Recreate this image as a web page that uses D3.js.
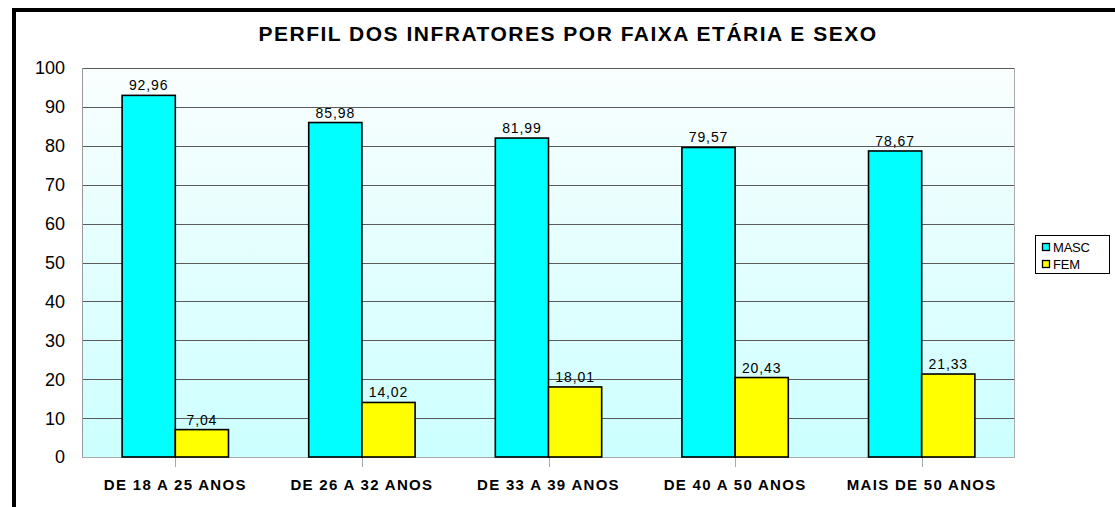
<!DOCTYPE html>
<html>
<head>
<meta charset="utf-8">
<script src="https://cdn.jsdelivr.net/npm/d3@7"></script>
<style>
  body { margin: 0; background: #fff; }
  text { font-family: Arial, "Liberation Sans", sans-serif; }
</style>
</head>
<body>
<div id="chart"></div>
<script>
// data
var categories = ["DE 18 A 25 ANOS", "DE 26 A 32 ANOS", "DE 33 A 39 ANOS", "DE 40 A 50 ANOS", "MAIS DE 50 ANOS"];
var series = ["MASC", "FEM"];
var masc = [92.96, 85.98, 81.99, 79.57, 78.67];
var fem = [7.04, 14.02, 18.01, 20.43, 21.33];
var yTicks = [0, 10, 20, 30, 40, 50, 60, 70, 80, 90, 100];
var colors = ["#00ffff", "#ffff00"];

var svgWidth = 1115, svgHeight = 507;
var margin = { top: 68, right: 100, bottom: 50, left: 82 };
var width = 1015 - margin.left;
var height = 457 - margin.top;

var svg = d3.select("#chart").append("svg")
  .attr("width", svgWidth)
  .attr("height", svgHeight);

// outer frame (only left/top visible)
svg.append("rect")
  .attr("x", 14).attr("y", 10)
  .attr("width", 1200).attr("height", 600)
  .attr("fill", "none").attr("stroke", "#000").attr("stroke-width", 4);

var defs = svg.append("defs");
var grad = defs.append("linearGradient").attr("id", "bg")
  .attr("x1", 0).attr("y1", 0).attr("x2", 0).attr("y2", 1);
grad.append("stop").attr("offset", "0%").attr("stop-color", "#fafefe");
grad.append("stop").attr("offset", "100%").attr("stop-color", "#ccffff");

var g = svg.append("g").attr("transform", `translate(${margin.left}, ${margin.top})`);

g.append("rect").attr("width", width).attr("height", height).attr("fill", "url(#bg)");

var x0 = d3.scaleBand().domain(categories).range([0, width]).paddingInner(0).paddingOuter(0);
var x1 = d3.scaleBand().domain(series).range([0, x0.bandwidth() * 0.57]);
var y = d3.scaleLinear().domain([0, 100]).range([height, 0]);
var groupOffset = (x0.bandwidth() - x1.range()[1]) / 2;

// gridlines
g.selectAll(".grid").data(yTicks.filter(d => d > 0)).enter().append("line")
  .attr("x1", 0).attr("x2", width)
  .attr("y1", d => Math.round(y(d)) + 0.5).attr("y2", d => Math.round(y(d)) + 0.5)
  .attr("stroke", "#5a5a5a").attr("stroke-width", 1);

// plot border left/right
g.append("line").attr("x1", 0.5).attr("x2", 0.5).attr("y1", 0).attr("y2", height).attr("stroke", "#999");
g.append("line").attr("x1", width - 0.5).attr("x2", width - 0.5).attr("y1", 0).attr("y2", height).attr("stroke", "#aaa");

// y axis labels
g.selectAll(".ylab").data(yTicks).enter().append("text")
  .attr("x", -17).attr("y", d => y(d))
  .attr("dy", "0.36em")
  .attr("text-anchor", "end")
  .attr("font-size", "18px")
  .attr("fill", "#000")
  .text(d => d);

// x axis
var xAxis = g.append("g").attr("transform", `translate(0, ${height})`);
xAxis.append("line").attr("x1", 0).attr("x2", width).attr("y1", 0.5).attr("y2", 0.5).attr("stroke", "#aaa");
xAxis.selectAll(".tick").data(categories).enter().append("line")
  .attr("x1", d => Math.round(x0(d) + x0.bandwidth() / 2) + 0.5)
  .attr("x2", d => Math.round(x0(d) + x0.bandwidth() / 2) + 0.5)
  .attr("y1", 0).attr("y2", 10)
  .attr("stroke", "#aaa");
xAxis.selectAll(".xlab").data(categories).enter().append("text")
  .attr("x", d => x0(d) + x0.bandwidth() / 2)
  .attr("y", 33)
  .attr("text-anchor", "middle")
  .attr("font-size", "15px")
  .attr("font-weight", "bold")
  .attr("letter-spacing", "1.3px")
  .text(d => d);

// bars
var rows = categories.map((c, i) => ({ cat: c, vals: [{ s: "MASC", v: masc[i] }, { s: "FEM", v: fem[i] }] }));
var groups = g.selectAll(".grp").data(rows).enter().append("g")
  .attr("transform", d => `translate(${x0(d.cat) + groupOffset}, 0)`);

groups.selectAll("rect").data(d => d.vals).enter().append("rect")
  .attr("x", d => x1(d.s))
  .attr("y", d => y(d.v))
  .attr("width", x1.bandwidth())
  .attr("height", d => height - y(d.v))
  .attr("fill", (d, i) => colors[i])
  .attr("stroke", "#000")
  .attr("stroke-width", 1.6);

groups.selectAll(".val").data(d => d.vals).enter().append("text")
  .attr("x", d => x1(d.s) + x1.bandwidth() / 2)
  .attr("y", d => y(d.v) - 5)
  .attr("text-anchor", "middle")
  .attr("font-size", "14px")
  .attr("letter-spacing", "0.9px")
  .text(d => d.v.toFixed(2).replace(".", ","));

// title
svg.append("text")
  .attr("x", 568).attr("y", 41)
  .attr("text-anchor", "middle")
  .attr("font-size", "21px")
  .attr("font-weight", "bold")
  .attr("letter-spacing", "1.5px")
  .text("PERFIL DOS INFRATORES POR FAIXA ETÁRIA E SEXO");

// legend
var legend = svg.append("g").attr("transform", "translate(1035, 235)");
legend.append("rect").attr("x", 0.5).attr("y", 0.5).attr("width", 74).attr("height", 38)
  .attr("fill", "#fff").attr("stroke", "#000");
series.forEach(function (s, i) {
  legend.append("rect")
    .attr("x", 7.5).attr("y", 8.5 + i * 17).attr("width", 7).attr("height", 7)
    .attr("fill", colors[i]).attr("stroke", "#000").attr("stroke-width", 1.3);
  legend.append("text")
    .attr("x", 18).attr("y", 12 + i * 17).attr("dy", "0.36em")
    .attr("font-size", "13px")
    .attr("letter-spacing", "-0.2px")
    .text(s);
});
</script>
</body>
</html>
